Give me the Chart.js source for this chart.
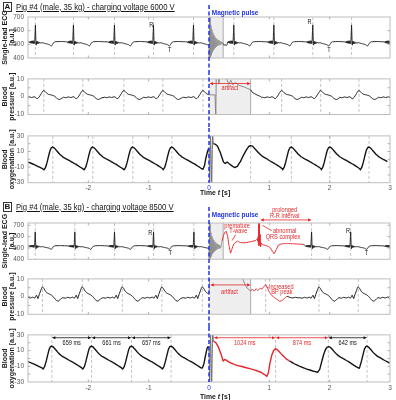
<!DOCTYPE html>
<html>
<head>
<meta charset="utf-8">
<script src="https://cdn.jsdelivr.net/npm/chart.js@4.4.1/dist/chart.umd.min.js"></script>
<style>
  body { margin: 0; width: 396px; height: 400px; position: relative; background: #fff; overflow: hidden;
         font-family: "Liberation Sans", Arial, sans-serif; color: #151515; }
  canvas { position: absolute; left: 0; }
  .box { position: absolute; left: 3px; width: 9px; height: 10px; box-sizing: border-box; border: 1px solid #333;
         font: bold 8px/8px "Liberation Sans", Arial, sans-serif; text-align: center; z-index: 2; }
  .ttl { position: absolute; left: 16px; font-size: 9px; line-height: 10px; white-space: nowrap;
         text-decoration: underline; transform-origin: 0 0; z-index: 2; }
  .xl { position: absolute; font-weight: bold; font-size: 7.5px; line-height: 9px; white-space: nowrap;
        transform-origin: 0 0; z-index: 2; }
</style>
</head>
<body>
<div class="box" style="top:2px">A</div>
<div class="ttl" style="top:1.5px" data-w="159">Pig #4 (male, 35 kg) - charging voltage 6000 V</div>
<div class="box" style="top:202px">B</div>
<div class="ttl" style="top:201.5px" data-w="158">Pig #4 (male, 35 kg) - charging voltage 8500 V</div>
<div class="xl" style="top:188px" data-w="30" data-c="215">Time <i>t</i> [s]</div>
<div class="xl" style="top:391.5px" data-w="30" data-c="215">Time <i>t</i> [s]</div>
<script>
// ---------- axes ----------
const timeTicks = [-3, -2, -1, 0, 1, 2, 3];
const ecgTicks = [400, 500, 600, 700];
const bpTicks = [-10, -5, 0, 5, 10];
const oxyTicks = [-30, -20, -10, 0, 10, 20, 30];

// ---------- one heartbeat (time from peak [s], value) ----------
const ecgBeat = [[-0.10,518],[-0.09,510],[-0.081,524],[-0.072,508],[-0.063,525],[-0.054,507],[-0.045,526],
  [-0.036,506],[-0.027,526],[-0.019,505],[-0.011,524],[-0.004,600],[0,642],[0.004,590],[0.009,505],[0.014,494],
  [0.02,522],[0.027,503],[0.035,520],[0.043,505],[0.051,518],[0.06,507],[0.07,515],[0.085,510],[0.12,512],
  [0.16,506],[0.2,502],[0.235,497],[0.265,487],[0.283,499],[0.3,512],[0.33,519],[0.42,521],[0.5,519]];
const bpBeatA = [[-0.32,-0.3],[-0.28,-0.6],[-0.24,-0.1],[-0.2,-0.5],[-0.16,0.0],[-0.13,-0.5],[-0.11,-1.3],
  [-0.08,-0.3],[-0.055,1.0],[-0.03,2.4],[-0.012,3.3],[0,3.5],[0.02,3.0],[0.05,1.9],[0.08,1.3],[0.11,1.1],
  [0.14,0.8],[0.17,0.5],[0.2,-0.3],[0.23,-1.3],[0.26,-1.6],[0.29,-1.1],[0.31,-0.7]];
const bpBeatB = [[-0.32,-0.6],[-0.28,-0.9],[-0.24,-0.4],[-0.2,-0.8],[-0.16,-0.3],[-0.13,-0.9],[-0.1,0.8],
  [-0.075,-1.1],[-0.05,1.5],[-0.025,3.8],[-0.01,5.2],[0,5.5],[0.02,4.8],[0.05,3.0],[0.08,2.0],[0.11,1.5],
  [0.14,1.0],[0.17,0.2],[0.2,-1.0],[0.23,-2.2],[0.26,-2.6],[0.29,-1.8],[0.31,-1.1]];
const oxyBeat = [[-0.145,-13.5],[-0.12,-10.5],[-0.095,-4],[-0.07,4],[-0.045,11.5],[-0.022,15],[0,15.8],
  [0.025,14.5],[0.065,11],[0.115,6.5],[0.175,2.5],[0.235,0],[0.305,-3],[0.375,-6],[0.435,-9],[0.495,-12]];

// ---------- A: 6000 V ----------
const ecgPeaksA = [-2.877, -2.247, -1.567, -0.92, -0.257, 0.411, 1.075, 1.72, 2.363, 3.01];
const bpPeaksA = [-2.738, -2.091, -1.411, -0.764, -0.1, 1.204, 1.851, 2.486, 3.13];
const oxyPeaksA = [-2.589, -1.925, -1.262, -0.615, 0.69, 1.365, 2.005, 2.652];

const ecgRingA = [[0,495],[0.004,370],[0.009,740],[0.014,370],[0.019,740],[0.025,400],[0.032,640],[0.04,420],
  [0.048,610],[0.056,440],[0.064,585],[0.072,455],[0.08,570],[0.088,465],[0.097,556],[0.106,474],[0.115,546],
  [0.125,482],[0.135,538],[0.145,488],[0.156,531],[0.167,493],[0.178,526],[0.19,497],[0.202,521],[0.215,500],
  [0.228,516],[0.235,505]];
const ecgAfterA = [[0.235,505],[0.252,493],[0.268,500],[0.284,489],[0.3,497]];
const bpArtA = [[0,1.1],[0.1,1.0],[0.113,-12],[0.12,12],[0.15,12],[0.165,7.3],[0.18,12],[0.27,12],[0.3,9.4],
  [0.33,7.0],[0.36,9.2],[0.4,6.7],[0.43,8.0],[0.5,6.4],[0.6,5.2],[0.69,3.9]];
const bpAfterA = [[0.69,3.9],[0.72,2.4],[0.76,1.6],[0.8,0.9],[0.85,0.2],[0.875,-0.4]];
const oxyStartA = [[-3,-3.5],[-2.92,-6],[-2.84,-9],[-2.76,-12]];
const oxyBeforeA = [[-0.1,-12.8],[-0.075,-8],[-0.05,2],[-0.025,10],[-0.008,13.5],[0,14]];
const oxyArtA = [[0,14],[0.012,-35],[0.025,35],[0.045,-35],[0.06,35],[0.07,20]];
const oxyAfterA = [[0.07,20],[0.1,19.5],[0.14,17],[0.19,8],[0.24,-3.5],[0.27,-5.5],[0.3,-3.5],[0.34,-6],
  [0.4,-9.5],[0.43,-10.6],[0.47,-9],[0.52,-3],[0.57,5],[0.62,12],[0.66,16.5],[0.69,17.6],[0.72,17],[0.76,13.5],
  [0.82,8.5],[0.88,4],[0.95,1],[1.02,-2.5],[1.1,-6],[1.17,-9.5],[1.22,-12.5]];

// ---------- B: 8500 V ----------
const ecgPeaksB = [-2.88, -2.224, -1.566, -0.919, -0.25, 1.70, 2.348, 3.01];
const bpPeaksB = [-2.76, -2.101, -1.438, -0.781, -0.111, 1.823, 2.473, 3.12];
const bpMarksB = [-2.76, -2.101, -1.438, -0.781, -0.111, 0.939, 1.823, 2.473];
const oxyPeaksB = [-2.605, -1.946, -1.285, -0.628, 2.62];
const oxyMarksB = [-2.605, -1.946, -1.285, -0.628, 1.104, 1.978, 2.62];

const ecgRingB = [[0,497],[0.004,370],[0.009,740],[0.014,370],[0.019,740],[0.025,410],[0.032,635],[0.04,425],
  [0.048,605],[0.056,445],[0.064,582],[0.072,458],[0.08,568],[0.088,468],[0.097,555],[0.106,476],[0.115,545],
  [0.125,484],[0.135,537],[0.145,490],[0.156,530],[0.167,494],[0.178,525],[0.19,498],[0.202,521],[0.215,560]];
const ecgRedB = [[0.215,560],[0.24,610],[0.265,640],[0.287,646],[0.31,600],[0.33,524],[0.358,454],[0.38,490],
  [0.41,535],[0.469,560],[0.52,548],[0.58,545],[0.662,552],[0.72,558],[0.773,566],[0.8,580],[0.81,560],
  [0.815,600],[0.82,520],[0.825,760],[0.83,560],[0.835,760],[0.84,520],[0.848,620],[0.855,510],[0.865,545],
  [0.884,530],[0.93,522],[0.98,515],[1.02,500],[1.05,470],[1.08,448],[1.11,480],[1.15,525],[1.2,536],
  [1.3,540],[1.4,537],[1.5,534],[1.55,532]];
const ecgAfterB = [[1.55,532],[1.58,527]];
const bpArtB = [[0,1.6],[0.012,12],[0.55,12],[0.57,9],[0.6,6.5],[0.64,4.5],[0.69,3.2]];
const bpRedB = [[0.69,3.2],[0.72,4.2],[0.75,3.1],[0.78,4.4],[0.81,3.4],[0.85,4.8],[0.88,4.3],[0.91,5.8],
  [0.94,6.8],[0.97,4.8],[1.0,2.6],[1.03,1.0],[1.08,-0.4],[1.13,-1.6],[1.17,-2.6],[1.21,-2.3],[1.25,-1.0],[1.29,0.2]];
const bpAfterB = [[1.29,0.2],[1.33,-0.3],[1.38,-0.8],[1.43,-0.4],[1.48,-0.7]];
const oxyStartB = [[-3,-4],[-2.92,-6.5],[-2.84,-9.5],[-2.77,-12]];
const oxyBeforeB = [[-0.11,-12.2],[-0.085,-7],[-0.06,3],[-0.035,12],[-0.015,15],[0,14]];
const oxyArtB = [[0,14],[0.012,-35],[0.025,35],[0.045,-35],[0.06,35],[0.075,22]];
const oxyRedB = [[0.075,22],[0.11,20.5],[0.15,15.5],[0.2,5.5],[0.235,-3.3],[0.26,-1.2],[0.29,-2.5],[0.35,-5.4],
  [0.45,-8.5],[0.6,-11.5],[0.75,-14.5],[0.86,-17.6],[0.93,-21],[0.96,-22.8],[0.985,-18],[1.01,-6],[1.04,4],
  [1.07,10],[1.1,12.4],[1.13,11.5],[1.2,5.5],[1.28,-0.5],[1.33,-3]];
const oxyAfterB = [[1.33,-3],[1.42,-7],[1.52,-10.5],[1.62,-13.5],[1.72,-16],[1.8,-17.6],[1.835,-14],[1.865,-5],
  [1.9,5],[1.935,12],[1.96,14.5],[1.985,15],[2.01,14.2],[2.05,11],[2.1,6.5],[2.16,2.5],[2.22,0],[2.29,-3],
  [2.36,-6.5],[2.43,-10],[2.49,-12.5]];

// R-R / peak-to-peak intervals marked in B oxygenation
const intervalStart = [-2.605, -1.946, -1.285, 0.08, 1.104, 1.978];
const intervalEnd = [-1.946, -1.285, -0.628, 1.104, 1.978, 2.62];
const intervalText = ['659 ms', '661 ms', '657 ms', '1024 ms', '874 ms', '642 ms'];
const intervalAbnormal = [false, false, false, true, true, false];

// ---------- helpers ----------
const FONT = '"Liberation Sans", Arial, sans-serif';
const RED = '#e5262a', BLUE = '#2233e6', INK = '#141414', ART = '#8c8c8c';

function pts(seg) { return seg.map(([x, y]) => ({x, y})); }
function beats(tpl, peaks, from, to) {
  const out = [];
  peaks.forEach(p => tpl.forEach(([dt, v]) => {
    const t = +(p + dt).toFixed(4);
    if (t >= from && t <= to) out.push({x: t, y: v});
  }));
  return out.sort((a, b) => a.x - b.x);
}

function label(ctx, text, px, py, o) {
  ctx.font = (o.bold ? 'bold ' : '') + (o.size || 7) + 'px ' + FONT;
  ctx.fillStyle = o.color || INK;
  ctx.textAlign = o.align || 'center';
  ctx.textBaseline = 'middle';
  ctx.fillText(text, px, py, ctx.measureText(text).width * (o.squeeze || 0.8));
}
function arrow(ctx, x0, x1, y, color) {
  ctx.strokeStyle = color; ctx.fillStyle = color; ctx.lineWidth = 0.8; ctx.setLineDash([]);
  ctx.beginPath(); ctx.moveTo(x0 + 2, y); ctx.lineTo(x1 - 2, y); ctx.stroke();
  ctx.beginPath();
  ctx.moveTo(x0, y); ctx.lineTo(x0 + 3.5, y - 1.6); ctx.lineTo(x0 + 3.5, y + 1.6); ctx.closePath();
  ctx.moveTo(x1, y); ctx.lineTo(x1 - 3.5, y - 1.6); ctx.lineTo(x1 - 3.5, y + 1.6); ctx.closePath();
  ctx.fill();
}

function frame(p) {
  return {
    id: 'frame',
    beforeDatasetsDraw(chart) {
      const {ctx, chartArea: a, scales: {x}} = chart;
      ctx.save();
      if (p.shade) {
        const x0 = x.getPixelForValue(p.shade[0]), x1 = x.getPixelForValue(p.shade[1]);
        ctx.fillStyle = '#eeeeee';
        ctx.fillRect(x0, a.top, x1 - x0, a.bottom - a.top);
        ctx.strokeStyle = '#9a9a9a'; ctx.lineWidth = 0.8;
        ctx.beginPath(); ctx.moveTo(x1, a.top); ctx.lineTo(x1, a.bottom); ctx.stroke();
      }
      ctx.strokeStyle = '#b5b5b5'; ctx.lineWidth = 0.8; ctx.setLineDash([3, 2]);
      p.dashes.forEach(t => {
        if (t <= -3 || t >= 3) return;
        const px = x.getPixelForValue(t);
        ctx.beginPath(); ctx.moveTo(px, a.top); ctx.lineTo(px, a.bottom); ctx.stroke();
      });
      ctx.restore();
    },
    afterDatasetsDraw(chart) {
      const {ctx, chartArea: a, scales: {x, y}} = chart;
      ctx.save();
      ctx.strokeStyle = '#bdbdbd'; ctx.lineWidth = 1;
      ctx.strokeRect(a.left, a.top, a.right - a.left, a.bottom - a.top);
      // matlab style inward ticks
      ctx.strokeStyle = '#a0a0a0'; ctx.lineWidth = 0.8;
      ctx.beginPath();
      timeTicks.forEach(t => {
        if (t <= -3 || t >= 3) return;
        const px = x.getPixelForValue(t);
        ctx.moveTo(px, a.bottom); ctx.lineTo(px, a.bottom - 2.5);
        ctx.moveTo(px, a.top); ctx.lineTo(px, a.top + 2.5);
      });
      p.yTicks.forEach(v => {
        const py = y.getPixelForValue(v);
        if (py < a.top + 1 || py > a.bottom - 1) return;
        ctx.moveTo(a.left, py); ctx.lineTo(a.left + 2.5, py);
        ctx.moveTo(a.right, py); ctx.lineTo(a.right - 2.5, py);
      });
      ctx.stroke();

      (p.lines || []).forEach(l => {
        ctx.strokeStyle = l.color; ctx.lineWidth = 0.8;
        ctx.beginPath();
        ctx.moveTo(x.getPixelForValue(l.t0), y.getPixelForValue(l.v0));
        ctx.lineTo(x.getPixelForValue(l.t1), y.getPixelForValue(l.v1));
        ctx.stroke();
      });
      (p.arrows || []).forEach(r => arrow(ctx, x.getPixelForValue(r.t0), x.getPixelForValue(r.t1), y.getPixelForValue(r.v), r.color));
      (p.notes || []).forEach(n => label(ctx, n.text, x.getPixelForValue(n.t), y.getPixelForValue(n.v), n));

      // magnetic pulse marker
      const bx = x.getPixelForValue(0);
      ctx.strokeStyle = BLUE; ctx.lineWidth = 1.5; ctx.setLineDash([4, 2.5]);
      ctx.beginPath();
      ctx.moveTo(bx, p.blueFrom || 0);
      ctx.lineTo(bx, p.xAxis ? a.bottom : chart.height);
      ctx.stroke();
      ctx.restore();
    }
  };
}

function makeChart(p) {
  const cv = document.createElement('canvas');
  cv.width = 396; cv.height = p.h;
  cv.style.top = p.top + 'px';
  document.body.appendChild(cv);
  const datasets = p.series.map(s => ({
    data: s.data, borderColor: s.color, borderWidth: s.w,
    // a tiny tension keeps every sample in the path (no pixel-column fast path)
    pointRadius: 0, tension: 0.000001, fill: false, borderJoinStyle: 'round'
  }));
  new Chart(cv, {
    type: 'line',
    data: {datasets},
    options: {
      responsive: false, animation: false, events: [],
      layout: {padding: {top: p.padTop, bottom: p.padBottom, left: 0, right: 6}},
      plugins: {legend: {display: false}, tooltip: {enabled: false}},
      scales: {
        x: {
          type: 'linear', min: -3, max: 3, display: !!p.xAxis,
          grid: {display: false, drawTicks: false}, border: {display: false},
          afterBuildTicks: s => { s.ticks = timeTicks.map(v => ({value: v})); },
          afterFit: s => { s.height = 9; },
          ticks: {
            autoSkip: false, maxRotation: 0, padding: 2,
            font: {size: 6.5, family: FONT},
            color: c => (c.tick && c.tick.value === 0 ? BLUE : '#555'),
            callback: v => (v === -3 ? '' : String(v))
          }
        },
        y: {
          min: p.yMin, max: p.yMax,
          grid: {display: false, drawTicks: false}, border: {display: false},
          afterBuildTicks: s => { s.ticks = p.yTicks.map(v => ({value: v})); },
          afterFit: s => { s.width = 28; },
          ticks: {padding: 4, font: {size: 6.5, family: FONT}, color: '#555'},
          title: {
            display: true, text: p.title, color: '#1a1a1a', padding: {top: 2, bottom: 0},
            font: {size: 7, weight: 'bold', family: FONT, lineHeight: 1}
          }
        }
      }
    },
    plugins: [frame(p)]
  });
}

// ---------- panel A ----------
makeChart({
  top: 0, h: 71, padTop: 17, padBottom: 4, yMin: 400, yMax: 700, yTicks: ecgTicks,
  title: ['Single-lead ECG', '[a.u.]'], dashes: ecgPeaksA, shade: [0, 0.235], blueFrom: 5,
  series: [
    {data: [{x: -3, y: 518}, ...beats(ecgBeat, ecgPeaksA, -3, 0), {x: 0, y: 495}], color: INK, w: 0.9},
    {data: pts(ecgRingA), color: ART, w: 0.9},
    {data: [...pts(ecgAfterA), ...beats(ecgBeat, ecgPeaksA, 0.305, 3)], color: INK, w: 0.9}
  ],
  notes: [
    {t: -0.957, v: 640, text: 'R'}, {t: -0.653, v: 460, text: 'T'},
    {t: 1.668, v: 666, text: 'R'}, {t: 1.988, v: 460, text: 'T'},
    {t: 0.046, v: 732, text: 'Magnetic pulse', color: BLUE, bold: true, size: 7.5, align: 'left', squeeze: 0.86}
  ]
});
makeChart({
  top: 71, h: 57, padTop: 4.5, padBottom: 4.5, yMin: -10, yMax: 10, yTicks: bpTicks,
  title: ['Blood', 'pressure [a.u.]'], dashes: bpPeaksA, shade: [0, 0.69],
  series: [
    {data: [{x: -3, y: -0.4}, ...beats(bpBeatA, bpPeaksA, -3, 0), {x: 0, y: 1.1}], color: INK, w: 1},
    {data: pts(bpArtA), color: '#7a7a7a', w: 0.9},
    {data: [...pts(bpAfterA), ...beats(bpBeatA, bpPeaksA, 0.88, 3)], color: INK, w: 1}
  ],
  arrows: [{t0: 0.01, t1: 0.69, v: 7.4, color: RED}],
  notes: [{t: 0.347, v: 5.1, text: 'artifact', color: RED}]
});
makeChart({
  top: 128, h: 69, padTop: 5, padBottom: 5.3, yMin: -30, yMax: 30, yTicks: oxyTicks, xAxis: true,
  title: ['Blood', 'oxygenation [a.u.]'], dashes: oxyPeaksA,
  series: [
    {data: [...pts(oxyStartA), ...beats(oxyBeat, oxyPeaksA.slice(0, 4), -3, 0), ...pts(oxyBeforeA)], color: INK, w: 1.4},
    {data: pts(oxyArtA), color: '#6e6e6e', w: 1},
    {data: [...pts(oxyAfterA), ...beats(oxyBeat, oxyPeaksA.slice(5), 1.22, 3)], color: INK, w: 1.4}
  ]
});

// ---------- panel B ----------
makeChart({
  top: 197, h: 74, padTop: 26, padBottom: 2.7, yMin: 400, yMax: 720, yTicks: ecgTicks,
  title: ['Single-lead ECG', '[a.u.]'], dashes: ecgPeaksB, shade: [0, 0.235], blueFrom: 10,
  series: [
    {data: [{x: -3, y: 518}, ...beats(ecgBeat, ecgPeaksB, -3, 0), {x: 0, y: 497}], color: INK, w: 0.9},
    {data: pts(ecgRingB), color: ART, w: 0.9},
    {data: pts(ecgRedB), color: RED, w: 1},
    {data: [...pts(ecgAfterB), ...beats(ecgBeat, ecgPeaksB, 1.59, 3)], color: INK, w: 0.9}
  ],
  arrows: [{t0: 0.85, t1: 1.70, v: 747, color: RED}],
  lines: [
    {t0: 0.441, v0: 618, t1: 0.383, v1: 565, color: RED},
    {t0: 1.04, v0: 652, t1: 0.884, v1: 700, color: RED}
  ],
  notes: [
    {t: -0.973, v: 635, text: 'R'}, {t: -0.642, v: 455, text: 'T'},
    {t: 2.303, v: 646, text: 'R'}, {t: 2.609, v: 455, text: 'T'},
    {t: 0.046, v: 789, text: 'Magnetic pulse', color: BLUE, bold: true, size: 7.5, align: 'left', squeeze: 0.86},
    {t: 0.466, v: 690, text: 'premature', color: RED}, {t: 0.486, v: 646, text: 'T-wave', color: RED},
    {t: 1.254, v: 647, text: 'abnormal', color: RED}, {t: 1.226, v: 600, text: 'QRS complex', color: RED},
    {t: 1.254, v: 835, text: 'prolonged', color: RED}, {t: 1.254, v: 783, text: 'R-R interval', color: RED}
  ]
});
makeChart({
  top: 271, h: 56, padTop: 3, padBottom: 3.7, yMin: -10, yMax: 10, yTicks: bpTicks,
  title: ['Blood', 'pressure [a.u.]'], dashes: bpMarksB, shade: [0, 0.69],
  series: [
    {data: [{x: -3, y: -0.7}, ...beats(bpBeatB, bpPeaksB, -3, 0), {x: 0, y: 1.6}], color: INK, w: 1},
    {data: pts(bpArtB), color: '#7a7a7a', w: 0.9},
    {data: pts(bpRedB), color: RED, w: 1},
    {data: [...pts(bpAfterB), ...beats(bpBeatB, bpPeaksB, 1.5, 3)], color: INK, w: 1}
  ],
  arrows: [{t0: 0.02, t1: 0.69, v: 6.6, color: RED}],
  lines: [{t0: 0.955, v0: 5.25, t1: 0.99, v1: 5.25, color: RED}],
  notes: [
    {t: 0.34, v: 2.8, text: 'artifact', color: RED},
    {t: 0.993, v: 5.25, text: 'Increased', color: RED, align: 'left'},
    {t: 1.033, v: 2.8, text: 'BP peak', color: RED, align: 'left'}
  ]
});
makeChart({
  top: 327, h: 73, padTop: 5, padBottom: 9, yMin: -30, yMax: 30, yTicks: oxyTicks, xAxis: true,
  title: ['Blood', 'oxygenation [a.u.]'], dashes: oxyMarksB,
  series: [
    {data: [...pts(oxyStartB), ...beats(oxyBeat, oxyPeaksB.slice(0, 4), -3, 0), ...pts(oxyBeforeB)], color: INK, w: 1.4},
    {data: pts(oxyArtB), color: '#6e6e6e', w: 1},
    {data: pts(oxyRedB), color: RED, w: 1.4},
    {data: [...pts(oxyAfterB), ...beats(oxyBeat, oxyPeaksB.slice(4), 2.49, 3)], color: INK, w: 1.4}
  ],
  arrows: intervalStart.map((t0, i) => ({t0, t1: intervalEnd[i], v: 26.4, color: intervalAbnormal[i] ? RED : INK})),
  notes: intervalText.map((text, i) => ({
    t: (intervalStart[i] + intervalEnd[i]) / 2, v: 19.8, text, color: intervalAbnormal[i] ? RED : INK
  }))
});

// squeeze the html captions to the reference widths
document.querySelectorAll('[data-w]').forEach(el => {
  const s = +el.dataset.w / el.offsetWidth;
  el.style.transform = 'scaleX(' + s.toFixed(3) + ')';
  if (el.dataset.c) el.style.left = (+el.dataset.c - +el.dataset.w / 2) + 'px';
});
</script>
</body>
</html>
